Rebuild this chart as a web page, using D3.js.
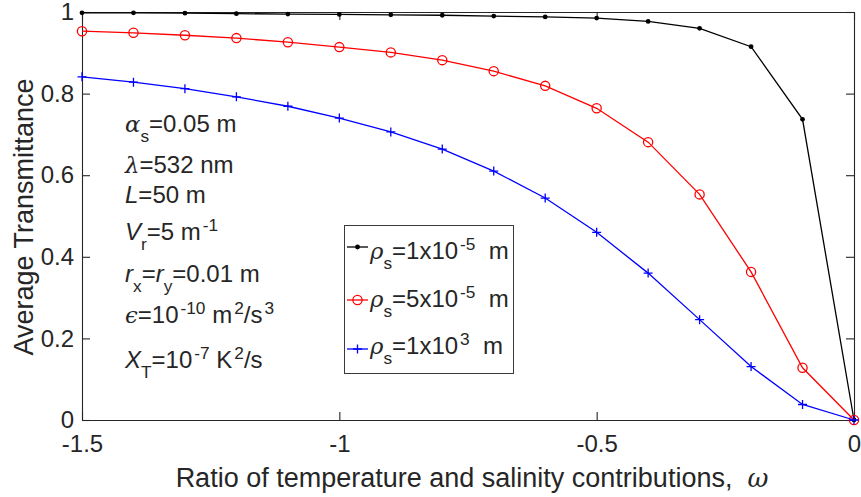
<!DOCTYPE html>
<html>
<head>
<meta charset="utf-8">
<script src="https://cdn.jsdelivr.net/npm/d3@7"></script>
<style>
body { margin: 0; background: #fff; }
text { font-family: "Liberation Sans", Arial, sans-serif; fill: #262626; }
</style>
</head>
<body>
<svg width="861" height="497"></svg>
<script>
var svg = d3.select('svg');

// ---- data ----
var omega = [-1.5, -1.4, -1.3, -1.2, -1.1, -1.0, -0.9, -0.8, -0.7, -0.6, -0.5, -0.4, -0.3, -0.2, -0.1, 0];
var rho1e5 = [0.998, 0.998, 0.997, 0.996, 0.995, 0.994, 0.993, 0.992, 0.990, 0.988, 0.985, 0.977, 0.960, 0.915, 0.737, 0];
var rho5e5 = [0.953, 0.949, 0.943, 0.936, 0.926, 0.914, 0.901, 0.882, 0.855, 0.819, 0.764, 0.681, 0.553, 0.363, 0.128, 0];
var rho1e3 = [0.841, 0.828, 0.812, 0.792, 0.769, 0.740, 0.706, 0.664, 0.610, 0.544, 0.460, 0.360, 0.246, 0.131, 0.038, 0];

var xTicks = [-1.5, -1, -0.5, 0];
var yTicks = [0, 0.2, 0.4, 0.6, 0.8, 1];
var xTickLabels = ['-1.5', '-1', '-0.5', '0'];
var yTickLabels = ['0', '0.2', '0.4', '0.6', '0.8', '1'];

var legendLabels = ['\\rho_{s}=1x10^{-5} m', '\\rho_{s}=5x10^{-5} m', '\\rho_{s}=1x10^{3} m'];
var seriesColors = ['#000000', '#ff0000', '#0000ff'];
var seriesMarkers = ['dot', 'circle', 'plus'];

var notes = ['\\alpha_{s}=0.05 m', '\\lambda=532 nm', '\\it{L}=50 m', '\\it{V}_{r}=5 m^{-1}',
             '\\it{r}_{x}=\\it{r}_{y}=0.01 m', '\\epsilon=10^{-10} m^{2}/s^{3}', '\\it{X}_{T}=10^{-7} K^{2}/s'];
var noteBaselines = [132, 173, 203, 240, 282, 323, 368];

var xLabel = 'Ratio of temperature and salinity contributions,  \\omega';
var yLabel = 'Average Transmittance';

// ---- scales ----
var x = d3.scaleLinear().domain([-1.5, 0]).range([82, 854]);
var y = d3.scaleLinear().domain([0, 1]).range([420, 12]);

var greek = { alpha: 'α', lambda: 'λ', epsilon: 'ϵ', rho: 'ρ', omega: 'ω' };

// tiny TeX-ish text writer
function richText(sel, str, size) {
    var re = /\\(alpha|lambda|epsilon|rho|omega)|\\it\{([^}]*)\}|_\{([^}]*)\}|\^\{([^}]*)\}|([^\\_^]+)/g;
    var m, shift = 0;
    var small = size * 0.72;
    while ((m = re.exec(str)) !== null) {
        var t = sel.append('tspan');
        var target = 0;
        if (m[1]) {
            t.text(greek[m[1]]).style('font-family', '"DejaVu Serif", serif').style('font-style', 'italic')
             .style('font-size', (size * 0.95) + 'px');
        } else if (m[2]) {
            t.text(m[2]).style('font-style', 'italic').style('font-size', size + 'px');
        } else if (m[3]) {
            target = size * 0.42;
            t.text(m[3]).style('font-size', small + 'px');
        } else if (m[4]) {
            target = -size * 0.38;
            t.text(m[4]).style('font-size', small + 'px').attr('dx', 2);
        } else {
            t.text(m[5]).style('font-size', size + 'px');
        }
        if (target !== shift) {
            t.attr('dy', target - shift);
            shift = target;
        }
    }
}

// ---- axes ----
var axisColor = '#262626';
var bottomAxis = svg.append('g').attr('transform', 'translate(0,420)')
    .call(d3.axisBottom(x).tickValues(xTicks).tickSize(-8).tickSizeOuter(0).tickPadding(15)
        .tickFormat(function(d, i) { return xTickLabels[i]; }));
var topAxis = svg.append('g').attr('transform', 'translate(0,12)')
    .call(d3.axisTop(x).tickValues(xTicks).tickSize(-8).tickSizeOuter(0).tickFormat(''));
var leftAxis = svg.append('g').attr('transform', 'translate(82,0)')
    .call(d3.axisLeft(y).tickValues(yTicks).tickSize(-8).tickSizeOuter(0).tickPadding(8)
        .tickFormat(function(d, i) { return yTickLabels[i]; }));
var rightAxis = svg.append('g').attr('transform', 'translate(854,0)')
    .call(d3.axisRight(y).tickValues(yTicks).tickSize(-8).tickSizeOuter(0).tickFormat(''));

svg.selectAll('.domain, .tick line').attr('stroke', axisColor).attr('stroke-width', 1.1);
svg.selectAll('.tick text').attr('fill', axisColor)
    .style('font-family', '"Liberation Sans", Arial, sans-serif').style('font-size', '24px');

// ---- series ----
var allSeries = [rho1e5, rho5e5, rho1e3];
var line = d3.line().x(function(d) { return x(d[0]); }).y(function(d) { return y(d[1]); });

function drawMarker(g, kind, color, cx, cy) {
    if (kind === 'dot') {
        g.append('circle').attr('cx', cx).attr('cy', cy).attr('r', 2.4).attr('fill', color);
    } else if (kind === 'circle') {
        g.append('circle').attr('cx', cx).attr('cy', cy).attr('r', 4.6)
            .attr('fill', 'none').attr('stroke', color).attr('stroke-width', 1.3);
    } else {
        g.append('path').attr('d', 'M' + (cx - 4.5) + ',' + cy + 'H' + (cx + 4.5) + 'M' + cx + ',' + (cy - 4.5) + 'V' + (cy + 4.5))
            .attr('stroke', color).attr('stroke-width', 1.3);
    }
}

allSeries.forEach(function(vals, k) {
    var pts = omega.map(function(o, i) { return [o, vals[i]]; });
    var g = svg.append('g');
    g.append('path').datum(pts).attr('d', line)
        .attr('fill', 'none').attr('stroke', seriesColors[k]).attr('stroke-width', 1.3);
    pts.forEach(function(p) { drawMarker(g, seriesMarkers[k], seriesColors[k], x(p[0]), y(p[1])); });
});

// ---- annotations ----
notes.forEach(function(s, i) {
    var t = svg.append('text').attr('x', 125).attr('y', noteBaselines[i]).attr('fill', '#000');
    richText(t, s, 24);
});

// ---- legend ----
var legend = svg.append('g');
legend.append('rect').attr('x', 344.5).attr('y', 225.5).attr('width', 169).attr('height', 148)
    .attr('fill', '#fff').attr('stroke', '#3a3a3a').attr('stroke-width', 1);
var legendLineY = [247, 300, 349];
var legendTextY = [259, 307, 354];
legendLabels.forEach(function(s, i) {
    legend.append('line').attr('x1', 347).attr('x2', 368).attr('y1', legendLineY[i]).attr('y2', legendLineY[i])
        .attr('stroke', seriesColors[i]).attr('stroke-width', 1.3);
    drawMarker(legend, seriesMarkers[i], seriesColors[i], 357.5, legendLineY[i]);
    var t = legend.append('text').attr('x', 370).attr('y', legendTextY[i]).attr('fill', '#000')
        .style('white-space', 'pre');
    richText(t, s.replace(' m', '  m'), 24);
});

// ---- axis labels ----
var xl = svg.append('text').attr('x', 472).attr('y', 487).attr('text-anchor', 'middle')
    .style('white-space', 'pre').attr('fill', axisColor);
richText(xl, xLabel, 27);

svg.append('text').attr('transform', 'translate(33,217) rotate(-90)').attr('text-anchor', 'middle')
    .style('font-size', '27px').attr('fill', axisColor).text(yLabel);
</script>
</body>
</html>
